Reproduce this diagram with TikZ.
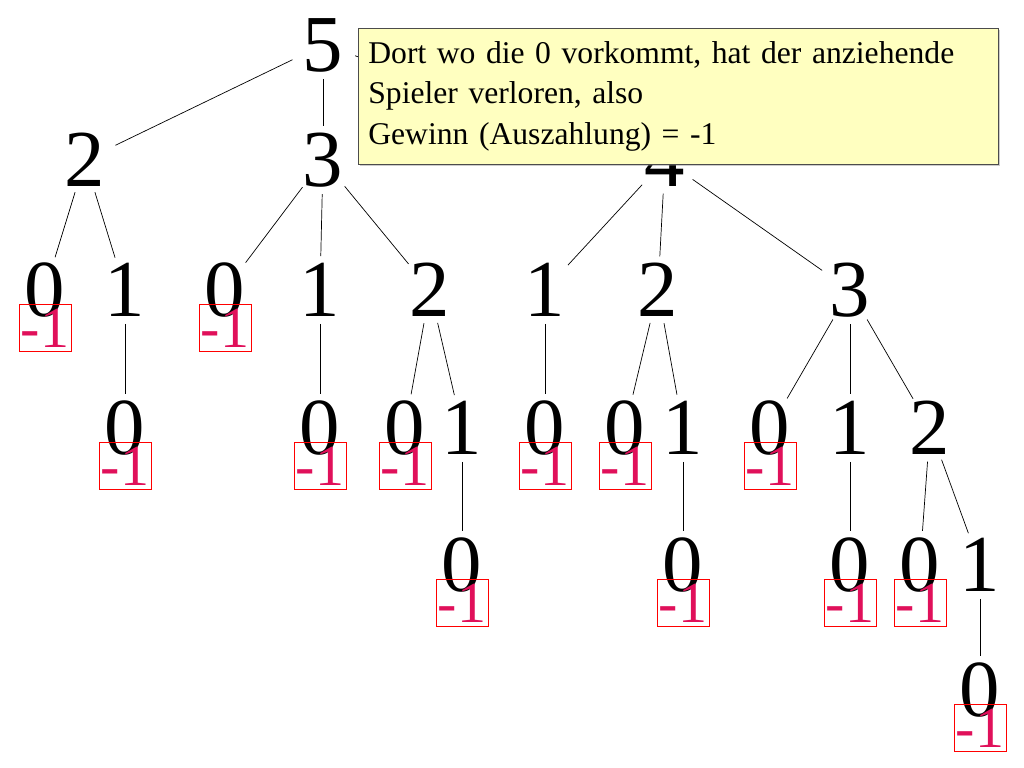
\documentclass[tikz,border=0pt]{standalone}
\usepackage{fontspec}
\setmainfont{Liberation Serif}
\usetikzlibrary{shadows}
\definecolor{loseRed}{HTML}{E0105A}
\definecolor{noteYellow}{HTML}{FFFFC0}
\tikzset{
  num/.style={circle, inner sep=0pt, minimum size=1.25cm, font=\fontsize{46}{46}\selectfont},
  lose/.style={draw=red, thin, text=loseRed, inner sep=0pt, minimum width=1.04cm, minimum height=0.94cm, font=\fontsize{33}{33}\selectfont},
  edge/.style={thin}
}
\begin{document}
\begin{tikzpicture}[x=0.2mm, y=-0.2mm]
    \useasboundingbox (0,0) rectangle (1024,768);

    % Root and first moves
    \node[num] (r) at (323,45) {5};
    \node[num] (a) at (85,160) {2};
    \node[num] (b) at (323,160) {3};
    \node[num] (c) at (665,160) {4};

    % Second level
    \node[num] (a0) at (45,290) {0};
    \node[num] (a1) at (125,290) {1};
    \node[num] (b0) at (225,290) {0};
    \node[num] (b1) at (320,290) {1};
    \node[num] (b2) at (430,290) {2};
    \node[num] (c1) at (545,290) {1};
    \node[num] (c2) at (658,290) {2};
    \node[num] (c3) at (850,290) {3};

    % Third level
    \node[num] (a10) at (125,428) {0};
    \node[num] (b10) at (320,428) {0};
    \node[num] (b20) at (405,428) {0};
    \node[num] (b21) at (462,428) {1};
    \node[num] (c10) at (545,428) {0};
    \node[num] (c20) at (625,428) {0};
    \node[num] (c21) at (683,428) {1};
    \node[num] (c30) at (770,428) {0};
    \node[num] (c31) at (850,428) {1};
    \node[num] (c32) at (930,428) {2};

    % Fourth and fifth level
    \node[num] (b210) at (462,565) {0};
    \node[num] (c210) at (683,565) {0};
    \node[num] (c310) at (850,565) {0};
    \node[num] (c320) at (920,565) {0};
    \node[num] (c321) at (980,565) {1};
    \node[num] (c3210) at (980,690) {0};

    % Connectors
    \draw[edge] (r) -- (a);  \draw[edge] (r) -- (b);  \draw[edge] (r) -- (c);
    \draw[edge] (a) -- (a0); \draw[edge] (a) -- (a1);
    \draw[edge] (b) -- (b0); \draw[edge] (b) -- (b1); \draw[edge] (b) -- (b2);
    \draw[edge] (c) -- (c1); \draw[edge] (c) -- (c2); \draw[edge] (c) -- (c3);
    \draw[edge] (a1) -- (a10);
    \draw[edge] (b1) -- (b10);
    \draw[edge] (b2) -- (b20); \draw[edge] (b2) -- (b21);
    \draw[edge] (c1) -- (c10);
    \draw[edge] (c2) -- (c20); \draw[edge] (c2) -- (c21);
    \draw[edge] (c3) -- (c30); \draw[edge] (c3) -- (c31); \draw[edge] (c3) -- (c32);
    \draw[edge] (b21) -- (b210);
    \draw[edge] (c21) -- (c210);
    \draw[edge] (c31) -- (c310);
    \draw[edge] (c32) -- (c320); \draw[edge] (c32) -- (c321);
    \draw[edge] (c321) -- (c3210);

    % Payoffs at the losing leaves
    \foreach \leaf in {a0,b0,a10,b10,b20,c10,c20,c30,b210,c210,c310,c320,c3210}
        \node[lose] (p-\leaf) at ([yshift=-7.6mm]\leaf.center) {-1};

    % Note
    \node[draw=black!70, fill=noteYellow, drop shadow={opacity=0.4, shadow xshift=0.4mm, shadow yshift=-0.4mm},
          anchor=north west, text width=12.4cm, minimum height=2.72cm, align=left,
          inner xsep=2mm, font=\fontsize{18}{23}\selectfont] (note) at (358,28)
        {Dort wo die 0 vorkommt, hat der anziehende\\Spieler verloren, also\\Gewinn (Auszahlung) = -1};

\end{tikzpicture}
\end{document}
